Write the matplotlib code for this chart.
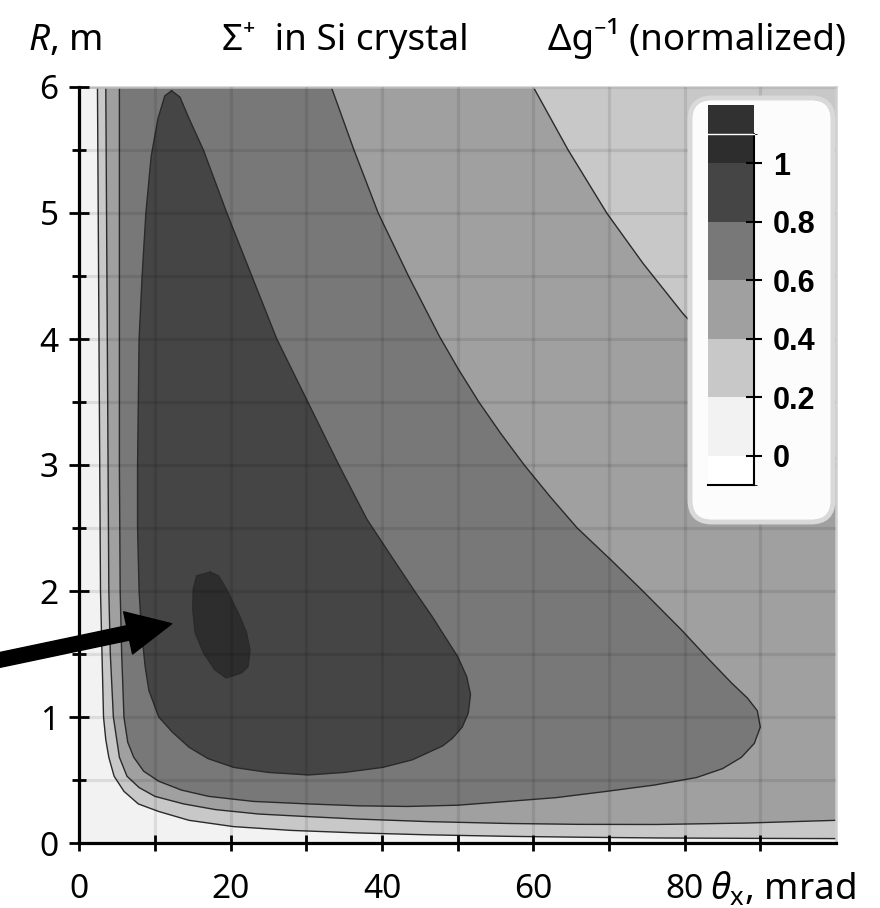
import matplotlib
matplotlib.use("Agg")
import matplotlib.pyplot as plt
import numpy as np
from matplotlib.colors import ListedColormap, BoundaryNorm
from matplotlib.cm import ScalarMappable
from matplotlib.patches import FancyBboxPatch, Polygon
from matplotlib.ticker import FixedLocator, MultipleLocator

plt.rcParams['font.family'] = ['Noto Sans', 'DejaVu Sans']
plt.rcParams['mathtext.fontset'] = 'custom'
plt.rcParams['mathtext.rm'] = 'Noto Sans'
plt.rcParams['mathtext.it'] = 'Noto Sans:italic'
plt.rcParams['mathtext.fallback'] = 'stixsans'

# ---------------- data ----------------
X_MIN, X_MAX = 0, 100          # theta_x, mrad
Y_MIN, Y_MAX = 0, 6            # R, m

LEVELS = [-0.1, 0.0, 0.2, 0.4, 0.6, 0.8, 1.0, 1.1]
BAND_COLORS = ['#ffffff', '#f2f2f2', '#c8c8c8', '#a0a0a0', '#787878', '#454545', '#2d2d2d']
OVER_COLOR = '#313131'
CB_TICKS = [0.0, 0.2, 0.4, 0.6, 0.8, 1.0]
CB_LABELS = ['0', '0.2', '0.4', '0.6', '0.8', '1']

X_MAJOR = [0, 20, 40, 60, 80]
X_MINOR = [10, 30, 50, 70, 90]
X_LABELS = ['0', '20', '40', '60', '80']

# contour level 0.2
C02_THETA = [2.4, 2.5, 2.6, 2.7, 2.8, 3.0, 3.2, 3.5, 3.9, 4.6, 5.9, 7.8, 10.5, 14.5, 20.4, 28, 36.8, 46, 56.6, 66, 76.3, 88, 100]
C02_R = [6.0, 5.0, 4.0, 3.0, 2.0, 1.5, 1.0, 0.82, 0.68, 0.53, 0.41, 0.31, 0.25, 0.18, 0.13, 0.10, 0.08, 0.065, 0.053, 0.046, 0.040, 0.037, 0.035]

# contour level 0.4 (lower branch)
C04LO_THETA = [3.5, 3.6, 3.7, 3.8, 3.9, 4.1, 4.5, 5.3, 6.3, 7.9, 10.0, 13.8, 18, 23.7, 30, 36.8, 46, 56.6, 66, 76.3, 88, 100]
C04LO_R = [6.0, 5.0, 4.0, 3.0, 2.0, 1.5, 1.0, 0.68, 0.53, 0.44, 0.37, 0.31, 0.265, 0.23, 0.21, 0.19, 0.17, 0.155, 0.148, 0.147, 0.158, 0.18]

# contour level 0.4 (upper-right branch)
C04HI_THETA = [60, 64.6, 69.7, 74.5, 79.8, 86, 93, 100]
C04HI_R = [6.0, 5.5, 5.0, 4.6, 4.2, 3.8, 3.4, 3.05]

# contour level 0.6
C06_THETA = [5.3, 5.3, 5.3, 5.3, 5.4, 5.6, 5.9, 6.4, 7.2, 8.5, 10.5, 13.5, 17.1, 23, 30.3, 37, 43.4, 50, 56.6, 63,
             69.7, 76, 81.6, 85, 87.5, 89.2, 90.0, 89.6, 88.3, 86.2, 83, 79.6, 74.3, 70.2, 65.8, 62.2, 58.8, 55.7,
             52.8, 50.1, 47.6, 43.5, 39.5, 36.3, 33.3]
C06_R = [6.0, 5.0, 4.0, 3.0, 2.0, 1.5, 1.0, 0.8, 0.68, 0.57, 0.49, 0.42, 0.37, 0.33, 0.31, 0.295, 0.29, 0.30, 0.33, 0.36,
         0.41, 0.46, 0.52, 0.59, 0.68, 0.79, 0.92, 1.05, 1.15, 1.27, 1.47, 1.69, 2.01, 2.25, 2.5, 2.75, 3.0, 3.25,
         3.5, 3.76, 4.02, 4.5, 5.0, 5.5, 6.0]

# contour level 0.8 (closed)
C08_THETA = [12.2, 13.3, 14.5, 16.4, 19.5, 22.8, 26.1, 30.2, 34.3, 38, 41.3, 44.3, 46.6, 48.3, 50.0, 51.2, 51.7, 51.4,
             50.6, 49.3, 48.0, 44, 40.1, 35, 30.3, 25, 20.4, 17, 14.5, 12.3, 10.5, 9.2, 8.7, 8.2, 7.9, 7.7, 7.7,
             7.8, 7.9, 8.3, 8.8, 9.5, 10.4, 11.3]
C08_R = [5.97, 5.92, 5.75, 5.5, 5.0, 4.5, 4.0, 3.5, 3.0, 2.57, 2.27, 2.0, 1.8, 1.64, 1.48, 1.32, 1.18, 1.03,
         0.92, 0.83, 0.77, 0.66, 0.6, 0.56, 0.54, 0.56, 0.6, 0.67, 0.76, 0.88, 1.0, 1.21, 1.4, 1.7, 2.0, 2.5, 3.0,
         3.5, 4.0, 4.5, 5.0, 5.45, 5.75, 5.93]

# contour level 1.0 (closed)
C10_THETA = [17.3, 18.4, 19.5, 21.2, 22.1, 22.55, 22.3, 21.45, 19.4, 17.9, 16.4, 15.3, 15.0, 15.05, 15.5]
C10_R = [2.15, 2.12, 2.01, 1.80, 1.67, 1.53, 1.40, 1.35, 1.31, 1.375, 1.51, 1.67, 1.85, 2.01, 2.12]

ARROW_TIP = (12.2, 1.74)
ARROW_TAIL = (-13.1, 1.42)

# ---------------- figure ----------------
fig = plt.figure(figsize=(8.8, 9.08), dpi=100)
ax = fig.add_axes([79.3 / 880, 65 / 908, 756.7 / 880, 756 / 908])
ax.set_xlim(X_MIN, X_MAX)
ax.set_ylim(Y_MIN, Y_MAX)
ax.set_facecolor(BAND_COLORS[1])

LINE_COLOR = '#2a2a2a'
LW = 1.0


def pts(t, r):
    return np.column_stack([np.asarray(t, float), np.asarray(r, float)])


# superlevel regions painted in ascending order
p02 = np.vstack([pts(C02_THETA, C02_R), [[X_MAX, Y_MAX]]])
ax.add_patch(Polygon(p02, closed=True, fc=BAND_COLORS[2], ec='none', zorder=1))

p04 = np.vstack([pts(C04LO_THETA, C04LO_R), pts(C04HI_THETA, C04HI_R)[::-1]])
ax.add_patch(Polygon(p04, closed=True, fc=BAND_COLORS[3], ec='none', zorder=1.1))

p06 = pts(C06_THETA, C06_R)
ax.add_patch(Polygon(p06, closed=True, fc=BAND_COLORS[4], ec='none', zorder=1.2))

p08 = pts(C08_THETA, C08_R)
ax.add_patch(Polygon(p08, closed=True, fc=BAND_COLORS[5], ec='none', zorder=1.3))

p10 = pts(C10_THETA, C10_R)
ax.add_patch(Polygon(p10, closed=True, fc=BAND_COLORS[6], ec='none', zorder=1.4))

# contour lines
for t, r, closed in [(C02_THETA, C02_R, False), (C04LO_THETA, C04LO_R, False),
                     (C04HI_THETA, C04HI_R, False), (C06_THETA, C06_R, False),
                     (C08_THETA, C08_R, True), (C10_THETA, C10_R, True)]:
    t = list(t); r = list(r)
    if closed:
        t = t + t[:1]; r = r + r[:1]
    ax.plot(t, r, color=LINE_COLOR, lw=LW, zorder=2, solid_joinstyle='round')

# grid on top
ax.set_axisbelow(False)
ax.xaxis.set_major_locator(FixedLocator(X_MAJOR))
ax.xaxis.set_minor_locator(FixedLocator(X_MINOR))
ax.set_xticklabels(X_LABELS)
ax.yaxis.set_major_locator(MultipleLocator(1))
ax.yaxis.set_minor_locator(MultipleLocator(0.5))
ax.grid(which='both', color='k', alpha=0.09, lw=2.3)

ax.tick_params(axis='x', which='both', direction='inout', length=11.5, width=2.0,
               labelsize=24, pad=16)
ax.tick_params(axis='y', which='major', direction='inout', length=13.7, width=2.0,
               labelsize=24, pad=8)
ax.tick_params(axis='y', which='minor', direction='inout', length=10.5, width=2.0)

for s in ['left', 'bottom']:
    ax.spines[s].set_linewidth(2.3)
    ax.spines[s].set_color('k')
for s in ['top', 'right']:
    ax.spines[s].set_linewidth(1.8)
    ax.spines[s].set_color('#cfcfcf')

# arrow
ax.annotate('', xy=ARROW_TIP, xytext=ARROW_TAIL, xycoords='data', textcoords='data',
            arrowprops=dict(arrowstyle='simple,head_length=3.2,head_width=3.1,tail_width=1.05',
                            fc='k', ec='k', mutation_scale=10, shrinkA=0, shrinkB=0),
            annotation_clip=False, zorder=5)

# axis titles / header texts
HEAD_FS = 26.5
fig.text(28 / 880, 1 - 50 / 908, r'$R$, m', fontsize=HEAD_FS, va='baseline', ha='left')
fig.text(222 / 880, 1 - 50 / 908, 'Σ\u207a  in Si crystal', fontsize=HEAD_FS, va='baseline', ha='left')
fig.text(548 / 880, 1 - 50 / 908, 'Δg\u207b¹ (normalized)', fontsize=HEAD_FS, va='baseline', ha='left')
fig.text(710 / 880, 1 - 899 / 908, r'$\theta_{\mathrm{x}}$, mrad', fontsize=HEAD_FS, va='baseline', ha='left')

# legend box with colorbar
box = FancyBboxPatch((6.90, 9.08 - 5.22), 1.43, 4.24,
                     boxstyle='round,pad=0,rounding_size=0.22',
                     transform=fig.dpi_scale_trans, fc='#fcfcfc', ec='#d9d9d9', lw=3.5, zorder=1)
fig.add_artist(box)

# colorbar axes spans extension + main bar (matplotlib shrinks the main bar inside it)
cax = fig.add_axes([708 / 880, (908 - 485) / 908, 46 / 880, 380 / 908])
cax.set_zorder(2)
cmap = ListedColormap(BAND_COLORS)
cmap.set_over(OVER_COLOR)
norm = BoundaryNorm(LEVELS, cmap.N)
cb = fig.colorbar(ScalarMappable(norm=norm, cmap=cmap), cax=cax, extend='max',
                  extendrect=True, extendfrac=0.0826, ticks=CB_TICKS, spacing='proportional')
cb.outline.set_visible(False)
cb.set_ticklabels(CB_LABELS)
cax.tick_params(direction='inout', length=11, width=1.5, labelsize=22, pad=8)
for lab in cax.get_yticklabels():
    lab.set_fontweight('bold')
    lab.set_family(['Liberation Sans', 'DejaVu Sans'])
cax.plot([1, 1], [0, 1], transform=cax.transAxes, color='k', lw=1.5, clip_on=False)
cax.plot([0, 1], [0, 0], transform=cax.transAxes, color='k', lw=1.5, clip_on=False)
cax.plot([0, 1], [1, 1], transform=cax.transAxes, color='white', lw=1.0, clip_on=False)

fig.savefig('out.png', dpi=100)
